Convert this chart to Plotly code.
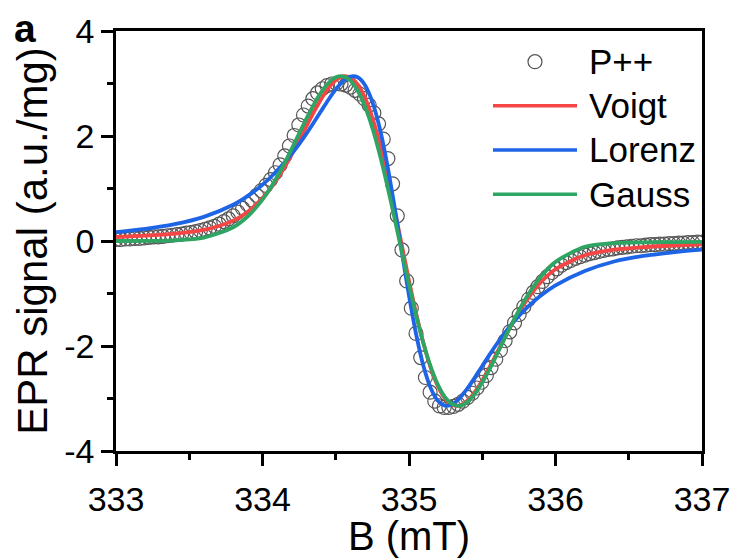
import plotly.graph_objects as go

# ---------------- data ----------------
B_data = [333.000, 333.032, 333.064, 333.096, 333.128, 333.160, 333.192, 333.224, 333.256, 333.288,
          333.320, 333.352, 333.384, 333.416, 333.448, 333.480, 333.512, 333.544, 333.576, 333.608,
          333.640, 333.672, 333.704, 333.736, 333.768, 333.800, 333.832, 333.864, 333.896, 333.928,
          333.960, 333.992, 334.024, 334.056, 334.088, 334.120, 334.152, 334.184, 334.216, 334.248,
          334.280, 334.312, 334.344, 334.376, 334.408, 334.440, 334.472, 334.504, 334.536, 334.568,
          334.600, 334.632, 334.664, 334.696, 334.728, 334.760, 334.792, 334.824, 334.856, 334.888,
          334.920, 334.952, 334.984, 335.016, 335.048, 335.080, 335.112, 335.144, 335.176, 335.208,
          335.240, 335.272, 335.304, 335.336, 335.368, 335.400, 335.432, 335.464, 335.496, 335.528,
          335.560, 335.592, 335.624, 335.656, 335.688, 335.720, 335.752, 335.784, 335.816, 335.848,
          335.880, 335.912, 335.944, 335.976, 336.008, 336.040, 336.072, 336.104, 336.136, 336.168,
          336.200, 336.232, 336.264, 336.296, 336.328, 336.360, 336.392, 336.424, 336.456, 336.488,
          336.520, 336.552, 336.584, 336.616, 336.648, 336.680, 336.712, 336.744, 336.776, 336.808,
          336.840, 336.872, 336.904, 336.936, 336.968, 337.000]

P_data = [0.03, 0.03, 0.04, 0.04, 0.05, 0.05, 0.06, 0.07, 0.08, 0.08,
          0.09, 0.10, 0.11, 0.12, 0.13, 0.15, 0.16, 0.18, 0.20, 0.22,
          0.25, 0.28, 0.32, 0.37, 0.42, 0.48, 0.55, 0.62, 0.70, 0.78,
          0.87, 0.96, 1.06, 1.17, 1.30, 1.45, 1.62, 1.81, 2.01, 2.21,
          2.40, 2.57, 2.71, 2.82, 2.90, 2.96, 2.99, 3.00, 2.99, 2.97,
          2.93, 2.87, 2.80, 2.71, 2.59, 2.44, 2.23, 1.94, 1.57, 1.09,
          0.48, -0.17, -0.76, -1.28, -1.76, -2.22, -2.60, -2.88, -3.05, -3.14,
          -3.17, -3.17, -3.15, -3.11, -3.05, -2.98, -2.90, -2.80, -2.69, -2.56,
          -2.41, -2.25, -2.08, -1.90, -1.73, -1.56, -1.40, -1.25, -1.11, -0.98,
          -0.87, -0.77, -0.68, -0.60, -0.53, -0.46, -0.41, -0.37, -0.33, -0.30,
          -0.27, -0.24, -0.22, -0.20, -0.18, -0.16, -0.15, -0.13, -0.12, -0.11,
          -0.10, -0.09, -0.09, -0.08, -0.07, -0.07, -0.06, -0.06, -0.05, -0.05,
          -0.04, -0.04, -0.03, -0.03, -0.02, -0.02]

B_fit = [333.0, 333.2, 333.4, 333.6, 333.8, 333.9, 334.0, 334.05, 334.1, 334.15,
         334.2, 334.25, 334.3, 334.35, 334.4, 334.45, 334.5, 334.55, 334.6, 334.65,
         334.7, 334.75, 334.8, 334.85, 334.9, 334.95, 335.0, 335.05, 335.1, 335.15,
         335.2, 335.25, 335.3, 335.35, 335.4, 335.45, 335.5, 335.55, 335.6, 335.65,
         335.7, 335.75, 335.8, 335.9, 336.0, 336.2, 336.4, 336.6, 336.8, 337.0]

voigt = [0.076, 0.101, 0.139, 0.212, 0.388, 0.559, 0.816, 0.984, 1.180, 1.403,
         1.650, 1.914, 2.186, 2.454, 2.702, 2.912, 3.063, 3.136, 3.113, 2.978,
         2.723, 2.347, 1.858, 1.272, 0.619, -0.069, -0.753, -1.396, -1.964, -2.432,
         -2.784, -3.015, -3.126, -3.129, -3.038, -2.874, -2.655, -2.402, -2.132, -1.860,
         -1.599, -1.357, -1.139, -0.786, -0.538, -0.272, -0.165, -0.115, -0.086, -0.066]

lorenz = [0.17, 0.23, 0.32, 0.46, 0.69, 0.86, 1.07, 1.20, 1.343, 1.495,
          1.663, 1.847, 2.046, 2.258, 2.476, 2.691, 2.887, 3.043, 3.131, 3.118,
          2.968, 2.651, 2.152, 1.480, 0.676, -0.192, -1.042, -1.795, -2.394, -2.813,
          -3.053, -3.139, -3.103, -2.981, -2.804, -2.598, -2.380, -2.164, -1.957, -1.764,
          -1.587, -1.426, -1.282, -1.038, -0.845, -0.572, -0.390, -0.285, -0.215, -0.165]

gauss = [0.000, 0.002, 0.013, 0.066, 0.262, 0.471, 0.788, 0.991, 1.223, 1.481,
         1.759, 2.046, 2.331, 2.598, 2.831, 3.010, 3.117, 3.136, 3.053, 2.861,
         2.559, 2.152, 1.650, 1.076, 0.451, -0.194, -0.830, -1.428, -1.961, -2.408,
         -2.754, -2.990, -3.115, -3.136, -3.062, -2.910, -2.697, -2.441, -2.161, -1.873,
         -1.590, -1.324, -1.080, -0.680, -0.398, -0.110, -0.040, -0.025, -0.020, -0.015]

series_names = ["P++", "Voigt", "Lorenz", "Gauss"]
x_ticks = [333, 334, 335, 336, 337]
y_ticks = [-4, -2, 0, 2, 4]

# ---------------- style ----------------
FONT = "Liberation Sans, Arial, sans-serif"
C_P = "#555555"
C_V = "#f54545"
C_L = "#1e64e6"
C_G = "#2ea562"

fig = go.Figure()
fig.add_trace(go.Scatter(x=B_data, y=P_data, mode="markers", name=series_names[0],
                         marker=dict(symbol="circle-open", size=14, color=C_P,
                                     line=dict(width=1.2, color=C_P)),
                         showlegend=False))
for name, vals, col in [(series_names[1], voigt, C_V), (series_names[2], lorenz, C_L),
                        (series_names[3], gauss, C_G)]:
    fig.add_trace(go.Scatter(x=B_fit, y=vals, mode="lines", name=name,
                             line=dict(color=col, width=3.8, shape="spline", smoothing=0.8),
                             showlegend=False))

axis_common = dict(showgrid=False, zeroline=False, showline=True, linecolor="black",
                   linewidth=2.5, mirror=True, ticks="outside", ticklen=12, tickwidth=2.5,
                   tickcolor="black", automargin=False,
                   tickfont=dict(family=FONT, size=34, color="black"))

fig.update_xaxes(range=[333, 337], tickvals=x_ticks, ticktext=[str(v) for v in x_ticks],
                 ticklabelstandoff=4,
                 minor=dict(ticks="outside", ticklen=6, tickwidth=2.5, tickcolor="black", dtick=0.5),
                 title=dict(text="B (mT)", font=dict(family=FONT, size=40, color="black"), standoff=3),
                 **axis_common)
fig.update_yaxes(range=[-4, 4], tickvals=y_ticks, ticktext=[str(v) for v in y_ticks],
                 minor=dict(ticks="outside", ticklen=6, tickwidth=2.5, tickcolor="black", dtick=1),
                 title=dict(text="EPR signal (a.u./mg)", font=dict(family=FONT, size=42, color="black"), standoff=4),
                 **axis_common)

# ---------------- manual legend ----------------
leg_x0, leg_x1, leg_tx = 0.6433, 0.7867, 0.8038
leg_y = [0.9269, 0.8221, 0.7167, 0.6112]
shapes = [dict(type="circle", xref="paper", yref="paper", xsizemode="pixel", ysizemode="pixel",
               xanchor=(leg_x0 + leg_x1) / 2, yanchor=leg_y[0], x0=-7, x1=7, y0=-7, y1=7,
               line=dict(color=C_P, width=1.2))]
for yy, col in zip(leg_y[1:], [C_V, C_L, C_G]):
    shapes.append(dict(type="line", xref="paper", yref="paper", x0=leg_x0, x1=leg_x1, y0=yy, y1=yy,
                       line=dict(color=col, width=3.5)))
annots = []
for yy, name in zip(leg_y, series_names):
    annots.append(dict(text=name, xref="paper", yref="paper", x=leg_tx, y=yy, xanchor="left",
                       yanchor="middle", showarrow=False,
                       font=dict(family=FONT, size=35, color="black")))
annots.append(dict(text="<b>a</b>", xref="paper", yref="paper", x=-0.178, y=1.006, xanchor="left",
                   yanchor="middle", showarrow=False, font=dict(family=FONT, size=39, color="black")))

fig.update_layout(width=737, height=558, margin=dict(l=116, r=35, t=31, b=107),
                  paper_bgcolor="white", plot_bgcolor="white", shapes=shapes, annotations=annots,
                  showlegend=False)

fig.write_html("out.html")
